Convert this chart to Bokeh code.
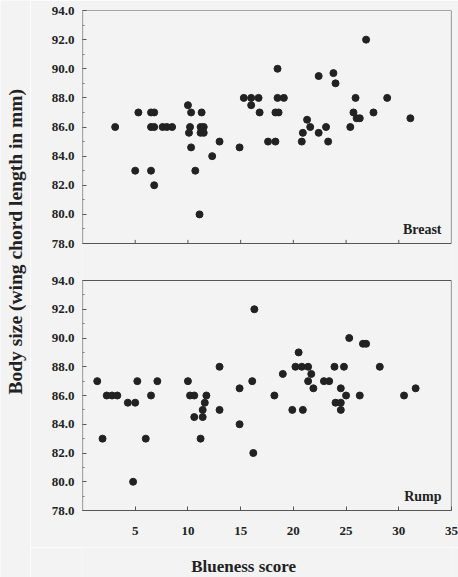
from bokeh.plotting import figure
from bokeh.layouts import row, column
from bokeh.models import Range1d, LinearAxis, FixedTicker, Label
from bokeh.embed import file_html
from bokeh.resources import INLINE

# ---------------- data ----------------
breast_x = [3.1, 5.3, 5.0, 6.5, 6.8, 6.5, 6.8, 7.6, 8.0, 8.5, 6.5, 6.8,
            10.0, 10.3, 11.3, 10.2, 10.1, 11.2, 11.5, 11.2, 11.5, 10.3, 10.7, 11.1,
            12.3, 13.0, 14.9, 18.5, 15.3, 16.0, 16.7, 16.0, 16.8, 18.5, 19.1,
            18.3, 18.6, 17.6, 18.3, 22.4, 23.8, 24.0, 21.3, 21.6, 20.9, 20.8,
            22.4, 23.1, 23.3, 25.9, 25.7, 26.0, 26.3, 25.4, 26.9, 27.6, 28.9, 31.1]
breast_y = [86.0, 87.0, 83.0, 87.0, 87.0, 86.0, 86.0, 86.0, 86.0, 86.0, 83.0, 82.0,
            87.5, 87.0, 87.0, 86.0, 85.6, 86.0, 86.0, 85.6, 85.6, 84.6, 83.0, 80.0,
            84.0, 85.0, 84.6, 90.0, 88.0, 88.0, 88.0, 87.5, 87.0, 88.0, 88.0,
            87.0, 87.0, 85.0, 85.0, 89.5, 89.7, 89.0, 86.5, 86.0, 85.6, 85.0,
            85.6, 86.0, 85.0, 88.0, 87.0, 86.6, 86.6, 86.0, 92.0, 87.0, 88.0, 86.6]

rump_x = [1.4, 1.9, 2.3, 2.8, 3.3, 4.3, 5.0, 5.2, 7.1, 6.5, 6.0, 4.8,
          10.0, 10.2, 10.6, 11.75, 11.6, 11.4, 11.4, 10.6, 11.2, 13.0, 13.0,
          16.3, 14.9, 16.1, 14.9, 16.2, 18.2, 19.0, 19.9, 20.9, 20.5,
          20.2, 20.8, 21.4, 21.7, 21.4, 21.9, 22.9, 23.4, 23.9, 24.8,
          24.5, 25.0, 24.0, 24.5, 24.5, 25.3, 26.6, 26.9, 26.3, 28.2, 30.5, 31.6]
rump_y = [87.0, 83.0, 86.0, 86.0, 86.0, 85.5, 85.5, 87.0, 87.0, 86.0, 83.0, 80.0,
          87.0, 86.0, 86.0, 86.0, 85.5, 85.0, 84.5, 84.5, 83.0, 88.0, 85.0,
          92.0, 86.5, 87.0, 84.0, 82.0, 86.0, 87.5, 85.0, 85.0, 89.0,
          88.0, 88.0, 88.0, 87.5, 87.0, 86.5, 87.0, 87.0, 88.0, 88.0,
          86.5, 86.0, 85.5, 85.5, 85.0, 90.0, 89.6, 89.6, 86.0, 88.0, 86.0, 86.5]

x_ticks = [5, 10, 15, 20, 25, 30, 35]
y_ticks = [78, 80, 82, 84, 86, 88, 90, 92, 94]
y_minor = [79, 81, 83, 85, 87, 89, 91, 93]
x_min, x_max = 0, 35
y_min, y_max = 78, 94
panel_names = ["Breast", "Rump"]
x_title = "Blueness score"
y_title = "Body size (wing chord length in mm)"

# ---------------- layout ----------------
W, H = 458, 577
LAB_W = 30          # strip carrying the y title
XLAB_H = 30         # strip carrying the x title
FRAME_H = 500
TOP_H = 233
BOT_H = 230
span = y_max - y_min
top_start = y_max - FRAME_H * span / TOP_H
rump_end = y_min + FRAME_H * span / BOT_H

FONT = "Liberation Serif"
INK = "#222222"
LINE = "#555555"
BG = "#f3f3f3"


def strip(w, h):
    f = figure(width=w, height=h, output_backend="svg", toolbar_location=None,
               x_range=Range1d(0, w), y_range=Range1d(0, h),
               x_axis_location=None, y_axis_location=None,
               min_border_left=0, min_border_right=0, min_border_top=0, min_border_bottom=0)
    f.grid.visible = False
    f.outline_line_color = None
    f.background_fill_color = BG
    f.border_fill_color = BG
    return f


lab = strip(LAB_W, H)
lab.add_layout(Label(x=LAB_W / 2, y=H - 394, text=y_title, angle=90, angle_units="deg",
                     text_align="left", text_baseline="middle", text_font=FONT,
                     text_font_style="bold", text_font_size="19.5px", text_color=INK))

PW = W - LAB_W
PH = H - XLAB_H
p = figure(width=PW, height=PH, output_backend="svg", toolbar_location=None,
           x_range=Range1d(x_min, x_max), y_range=Range1d(top_start, y_max),
           y_axis_location=None, x_axis_location="below",
           min_border_left=82 - LAB_W, min_border_right=7, min_border_top=10,
           min_border_bottom=PH - 10 - FRAME_H)
p.extra_y_ranges = {"rump": Range1d(y_min, rump_end)}
p.grid.visible = False
p.outline_line_color = None
p.background_fill_color = BG
p.border_fill_color = BG


def to_default(v):
    f = (v - y_min) / (rump_end - y_min)
    return top_start + f * (y_max - top_start)


ticks_all = list(y_ticks) + [to_default(v) for v in y_ticks]
minor_all = list(y_minor) + [to_default(v) for v in y_minor]
overrides = {t: "%.1f" % v for t, v in zip(ticks_all, list(y_ticks) + list(y_ticks))}

yax = LinearAxis(ticker=FixedTicker(ticks=ticks_all, minor_ticks=minor_all))
yax.major_label_overrides = overrides
yax.axis_line_color = None
yax.major_tick_in = 4
yax.major_tick_out = 0
yax.minor_tick_in = 2
yax.minor_tick_out = 0
yax.major_tick_line_color = LINE
yax.minor_tick_line_color = "#777777"
yax.major_label_text_font = FONT
yax.major_label_text_font_style = "bold"
yax.major_label_text_font_size = "13px"
yax.major_label_text_color = INK
yax.major_label_standoff = 8
p.add_layout(yax, "left")

xax = p.xaxis[0]
xax.ticker = FixedTicker(ticks=x_ticks)
xax.axis_line_color = LINE
xax.major_tick_in = 4
xax.major_tick_out = 0
xax.minor_tick_line_color = None
xax.major_tick_line_color = LINE
xax.major_label_text_font = FONT
xax.major_label_text_font_style = "bold"
xax.major_label_text_font_size = "13px"
xax.major_label_text_color = INK
xax.major_label_standoff = 16

# panel borders
p.quad(left=x_min, right=x_max, bottom=y_min, top=y_max, fill_color=None,
       line_color=LINE, line_width=1.2)
p.quad(left=x_min, right=x_max, bottom=y_min, top=y_max, fill_color=None,
       line_color=LINE, line_width=1.2, y_range_name="rump")
# small x ticks on the top panel's bottom border
p.segment(x0=x_ticks[:-1], x1=x_ticks[:-1], y0=[y_min] * (len(x_ticks) - 1),
          y1=[y_min + 0.25] * (len(x_ticks) - 1), line_color=LINE)

# points
p.scatter(breast_x, breast_y, size=7, color=INK)
p.scatter(rump_x, rump_y, size=7, color=INK, y_range_name="rump")

# panel labels
p.add_layout(Label(x=x_max, y=y_min, x_offset=-10, y_offset=7, text=panel_names[0],
                   text_align="right", text_baseline="bottom", text_font=FONT,
                   text_font_style="bold", text_font_size="14px", text_color=INK))
p.add_layout(Label(x=x_max, y=y_min, x_offset=-10, y_offset=7, text=panel_names[1],
                   text_align="right", text_baseline="bottom", text_font=FONT,
                   text_font_style="bold", text_font_size="14px", text_color=INK,
                   y_range_name="rump"))

# x title strip
xlab = strip(PW, XLAB_H)
xlab.add_layout(Label(x=156 - LAB_W, y=XLAB_H - (566 - PH), text=x_title,
                      text_align="left", text_baseline="middle", text_font=FONT,
                      text_font_style="bold", text_font_size="17px", text_color=INK))

layout = row(lab, column(p, xlab))
open("out.html", "w").write(file_html(layout, INLINE))
